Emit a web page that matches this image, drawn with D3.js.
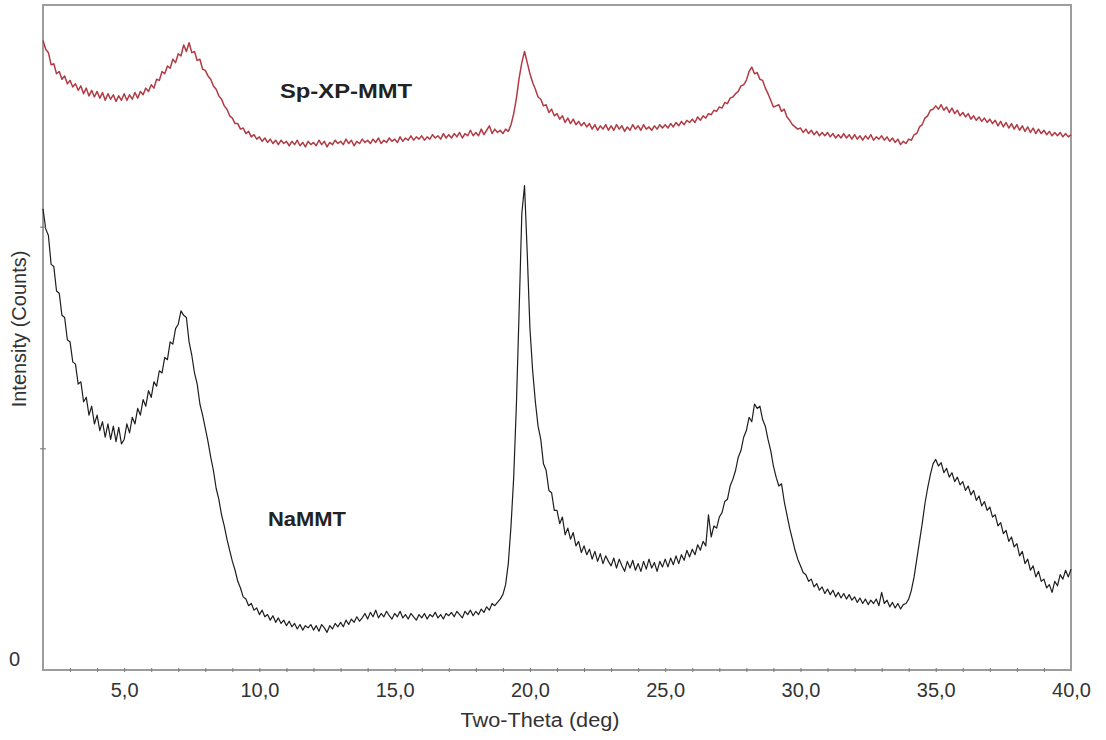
<!DOCTYPE html>
<html>
<head>
<meta charset="utf-8">
<script src="https://cdn.jsdelivr.net/npm/d3@7/dist/d3.min.js"></script>
<style>
  html, body { margin: 0; padding: 0; background: #fff; }
  svg { display: block; }
  text { font-family: "Liberation Sans", Arial, sans-serif; }
</style>
</head>
<body>
<div id="chart"></div>
<script>
// XRD patterns: scan start and step (degrees 2-theta), intensities
const thetaStart = 2.0;
const thetaStep = 0.1;

const naMMT = [
  2080,1990,1960,1830,1820,1710,1700,1600,1590,1490,
  1480,1390,1380,1290,1300,1210,1230,1150,1190,1110,
  1150,1080,1120,1050,1110,1040,1100,1030,1095,1020,
  1040,1110,1070,1140,1110,1180,1150,1220,1190,1260,
  1230,1300,1280,1350,1340,1410,1400,1480,1470,1540,
  1560,1620,1600,1590,1480,1420,1340,1290,1200,1150,
  1090,1030,960,900,820,770,700,650,590,540,
  490,450,400,370,330,320,290,300,270,280,
  250,270,240,250,225,245,215,235,210,225,
  200,220,195,210,185,205,180,200,190,205,
  180,200,175,205,190,170,200,185,210,195,
  215,195,225,205,230,215,240,220,235,255,
  230,260,240,270,235,255,240,265,245,230,
  255,240,265,235,250,230,255,240,225,250,
  235,255,230,250,240,260,235,250,230,255,
  245,260,240,265,250,235,265,250,270,245,
  265,250,275,260,285,270,300,290,305,320,
  340,385,480,650,870,1200,1620,2060,2185,1880,
  1540,1350,1210,1100,1040,930,900,810,800,720,
  720,660,690,610,640,590,620,560,580,530,
  560,520,545,500,535,490,525,480,515,490,
  470,505,460,500,470,445,490,460,495,450,
  480,445,490,455,500,460,485,445,490,465,
  500,465,505,475,515,480,520,495,540,510,
  545,520,565,540,580,560,700,600,650,640,
  690,710,760,770,830,860,900,960,990,1050,
  1080,1140,1120,1200,1180,1190,1130,1100,1040,990,
  920,870,830,840,760,700,640,590,540,500,
  470,440,430,400,410,375,390,360,375,345,
  365,340,360,330,350,325,345,320,340,315,
  330,305,325,300,320,295,315,300,320,290,
  350,300,315,285,305,280,300,275,295,300,
  320,360,420,500,580,660,750,820,880,930,
  950,920,935,890,910,870,890,850,870,835,
  850,810,830,790,810,765,785,740,760,720,
  735,690,700,650,665,615,630,580,600,555,
  570,515,535,480,500,450,470,420,445,400,
  410,370,385,350,400,380,430,410,450,420,455
];

const spXPMMT = [
  2840,2800,2785,2730,2735,2690,2700,2665,2680,2645,
  2660,2630,2645,2615,2635,2600,2625,2590,2615,2585,
  2610,2580,2605,2570,2600,2575,2595,2565,2590,2570,
  2600,2570,2595,2575,2605,2580,2610,2595,2625,2610,
  2640,2625,2665,2660,2700,2690,2725,2715,2755,2740,
  2780,2770,2820,2790,2830,2785,2790,2750,2755,2710,
  2705,2680,2665,2635,2620,2590,2575,2545,2530,2500,
  2490,2465,2465,2440,2445,2420,2430,2405,2415,2395,
  2405,2385,2400,2380,2395,2375,2390,2370,2390,2375,
  2385,2365,2385,2370,2390,2365,2380,2360,2385,2370,
  2380,2365,2390,2370,2385,2360,2380,2370,2390,2375,
  2385,2370,2395,2375,2390,2365,2385,2375,2395,2380,
  2390,2375,2395,2380,2400,2375,2390,2380,2400,2385,
  2395,2380,2405,2385,2400,2390,2410,2390,2405,2395,
  2410,2390,2405,2395,2415,2400,2410,2395,2420,2400,
  2415,2400,2420,2405,2425,2400,2420,2410,2435,2410,
  2425,2410,2440,2415,2435,2455,2420,2440,2425,2435,
  2420,2440,2430,2460,2510,2580,2670,2740,2790,2740,
  2690,2650,2620,2585,2575,2545,2550,2515,2530,2500,
  2510,2485,2500,2470,2490,2465,2485,2460,2475,2455,
  2470,2450,2465,2440,2460,2435,2455,2440,2460,2435,
  2455,2435,2460,2440,2455,2430,2450,2435,2460,2440,
  2455,2435,2460,2440,2450,2435,2455,2440,2460,2445,
  2460,2445,2465,2450,2470,2455,2475,2460,2480,2470,
  2485,2470,2495,2480,2500,2490,2510,2505,2525,2520,
  2540,2535,2560,2555,2580,2585,2600,2610,2635,2640,
  2660,2700,2720,2690,2695,2665,2660,2625,2600,2570,
  2540,2545,2550,2520,2530,2495,2480,2460,2450,2440,
  2445,2425,2440,2420,2435,2415,2430,2410,2425,2410,
  2425,2405,2420,2400,2415,2400,2420,2400,2415,2395,
  2415,2395,2410,2390,2410,2395,2415,2390,2405,2395,
  2410,2390,2405,2385,2400,2380,2395,2370,2385,2375,
  2395,2390,2415,2420,2450,2460,2490,2500,2525,2530,
  2545,2530,2550,2525,2540,2515,2535,2510,2525,2500,
  2515,2495,2510,2485,2500,2480,2495,2475,2490,2470,
  2485,2465,2480,2455,2475,2450,2470,2445,2465,2440,
  2460,2435,2455,2430,2450,2425,2445,2420,2440,2420,
  2435,2415,2430,2410,2425,2410,2425,2405,2420,2405,2415
];

const seriesNames = ["Sp-XP-MMT", "NaMMT"];
const xMajorTicks = [5, 10, 15, 20, 25, 30, 35, 40];
const xTickLabels = ["5,0", "10,0", "15,0", "20,0", "25,0", "30,0", "35,0", "40,0"];
const xMinorTicks = [3,4,5,6,7,8,9,10,11,12,13,14,15,16,17,18,19,20,21,22,23,24,25,26,27,28,29,30,31,32,33,34,35,36,37,38,39];
const yTicks = [0, 1000, 2000];
const yTickLabels = ["0", "", ""];
const xTitle = "Two-Theta (deg)";
const yTitle = "Intensity (Counts)";

const W = 1106, H = 740;
const pLeft = 43, pRight = 1071, pTop = 5, pBottom = 670;

const svg = d3.select("#chart").append("svg").attr("width", W).attr("height", H);

const x = d3.scaleLinear().domain([2, 40]).range([pLeft, pRight]);
const y = d3.scaleLinear().domain([0, 3000]).range([pBottom, pTop]);

const toPts = arr => arr.map((v, i) => [thetaStart + i * thetaStep, v]);

const line = d3.line().x(d => x(d[0])).y(d => y(d[1]));

// frame
const frameColor = "#9d9d9d";
svg.append("rect")
  .attr("x", pLeft).attr("y", pTop)
  .attr("width", pRight - pLeft).attr("height", pBottom - pTop)
  .attr("fill", "none").attr("stroke", frameColor).attr("stroke-width", 2);

// series
svg.append("path").datum(toPts(spXPMMT))
  .attr("d", line).attr("fill", "none")
  .attr("stroke", "#b23a44").attr("stroke-width", 1.5).attr("stroke-linejoin", "round");
svg.append("path").datum(toPts(naMMT))
  .attr("d", line).attr("fill", "none")
  .attr("stroke", "#1e1e1e").attr("stroke-width", 1.2).attr("stroke-linejoin", "round");

// x axis minor ticks
const xAxis = d3.axisBottom(x).tickValues(xMinorTicks).tickSize(3).tickFormat("");
const gx = svg.append("g").attr("transform", `translate(0,${pBottom})`).call(xAxis);
gx.select(".domain").remove();
gx.selectAll(".tick line").attr("stroke", "#777").attr("y1", -2).attr("y2", 2);

// x axis labels
const xLab = d3.axisBottom(x).tickValues(xMajorTicks).tickSize(0)
  .tickFormat((d, i) => xTickLabels[i]);
const gxl = svg.append("g").attr("transform", `translate(0,${pBottom})`).call(xLab);
gxl.select(".domain").remove();
gxl.selectAll(".tick text")
  .attr("y", 13).attr("dy", "0.71em")
  .style("font-family", "'Liberation Sans', Arial, sans-serif")
  .style("font-size", "20px").attr("fill", "#333");

// y axis
const yAxis = d3.axisLeft(y).tickValues(yTicks).tickSize(0).tickFormat((d, i) => yTickLabels[i]);
const gy = svg.append("g").attr("transform", `translate(${pLeft},0)`).call(yAxis);
gy.select(".domain").remove();
gy.selectAll(".tick line").attr("stroke", "#777").attr("x1", -3).attr("x2", 3)
  .attr("display", d => d === 0 ? "none" : null);
gy.selectAll(".tick text")
  .attr("x", -23).attr("dy", "-0.25em")
  .style("font-family", "'Liberation Sans', Arial, sans-serif")
  .style("font-size", "20px").attr("fill", "#333");

// axis titles
svg.append("text")
  .attr("x", 540).attr("y", 727)
  .attr("text-anchor", "middle")
  .attr("textLength", 159).attr("lengthAdjust", "spacingAndGlyphs")
  .style("font-size", "20px").attr("fill", "#333")
  .text(xTitle);
svg.append("text")
  .attr("transform", `translate(26,329) rotate(-90)`)
  .attr("text-anchor", "middle")
  .style("font-size", "20px").attr("fill", "#333")
  .text(yTitle);

// series labels
svg.append("text")
  .attr("x", 280).attr("y", 98)
  .attr("textLength", 132).attr("lengthAdjust", "spacingAndGlyphs")
  .style("font-size", "21px").style("font-weight", "bold").attr("fill", "#222")
  .text(seriesNames[0]);
svg.append("text")
  .attr("x", 268).attr("y", 526)
  .attr("textLength", 78).attr("lengthAdjust", "spacingAndGlyphs")
  .style("font-size", "21px").style("font-weight", "bold").attr("fill", "#222")
  .text(seriesNames[1]);
</script>
</body>
</html>
